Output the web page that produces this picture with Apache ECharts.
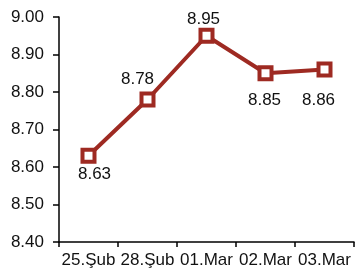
<!DOCTYPE html>
<html>
<head>
<meta charset="utf-8">
<script src="https://cdn.jsdelivr.net/npm/echarts@6/dist/echarts.min.js"></script>
<style>
  html, body { margin: 0; padding: 0; background: #fff; }
  #chart { width: 355px; height: 273px; }
</style>
</head>
<body>
<div id="chart"></div>
<script>
// categories and values
const categories = ['25.Şub', '28.Şub', '01.Mar', '02.Mar', '03.Mar'];
const values = [8.63, 8.78, 8.95, 8.85, 8.86];

// label nudges (px) from the centre of each point, like the original
const labelOffsets = [[6, 19], [-10, -20], [-3, -16], [-1, 27], [-6, 31]];

const chart = echarts.init(document.getElementById('chart'));

const lineColor = '#9e2a22';
const font = 'Liberation Sans, Arial, sans-serif';

chart.setOption({
  animation: false,
  grid: { left: 59, right: 1, top: 17, bottom: 31 },
  xAxis: {
    type: 'category',
    data: categories,
    boundaryGap: true,
    axisLine: { lineStyle: { color: '#000', width: 1.5 } },
    axisTick: { show: true, length: 5, lineStyle: { color: '#000', width: 1.5 } },
    axisLabel: { color: '#111', fontSize: 17, fontFamily: font, margin: 10, interval: 0 }
  },
  yAxis: {
    type: 'value',
    min: 8.4,
    max: 9.0,
    interval: 0.1,
    splitLine: { show: false },
    axisLine: { show: true, lineStyle: { color: '#000', width: 1.5 } },
    axisTick: { show: true, length: 6, lineStyle: { color: '#000', width: 1.5 } },
    axisLabel: {
      color: '#111', fontSize: 17, fontFamily: font, margin: 15,
      formatter: v => v.toFixed(2)
    }
  },
  series: [{
    type: 'line',
    data: values.map((v, i) => ({
      value: v,
      label: { offset: labelOffsets[i] }
    })),
    symbol: 'rect',
    symbolSize: 12,
    lineStyle: { color: lineColor, width: 4 },
    itemStyle: { color: '#fff', borderColor: lineColor, borderWidth: 4 },
    label: {
      show: true,
      position: 'inside',
      color: '#111',
      fontSize: 17,
      fontFamily: font,
      formatter: p => p.value.toFixed(2)
    }
  }]
});
</script>
</body>
</html>
